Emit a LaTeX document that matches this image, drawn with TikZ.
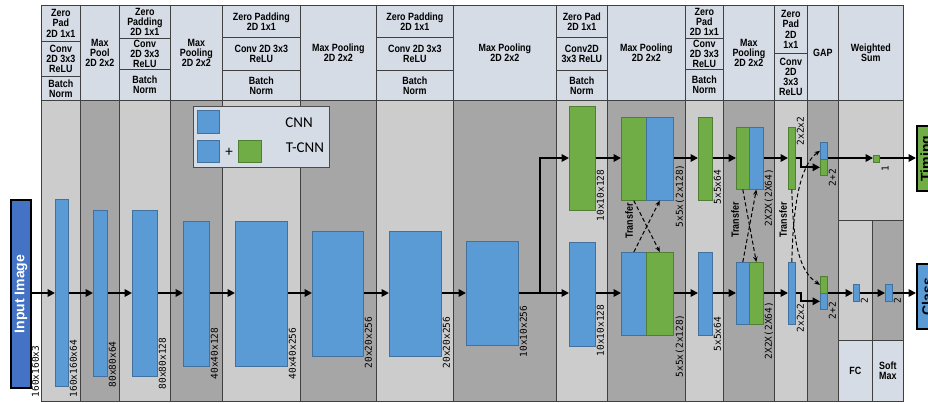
\documentclass[tikz,border=0pt]{standalone}
\usepackage{fontspec}
\usepackage{graphicx}
\usetikzlibrary{arrows.meta}
\newfontfamily\hdrfont[FakeStretch=0.85]{Liberation Sans}
\newfontfamily\boxfont{Liberation Sans}
\newfontfamily\dimfont{DejaVu Sans Mono}
\newfontfamily\legfont{Carlito}
\definecolor{hdr}{HTML}{D6DCE5}
\definecolor{bodyL}{HTML}{CCCCCC}
\definecolor{bodyD}{HTML}{A6A6A6}
\definecolor{cnnblue}{HTML}{5B9BD5}
\definecolor{cnnblueB}{HTML}{41719C}
\definecolor{tgreen}{HTML}{70AD47}
\definecolor{tgreenB}{HTML}{507E32}
\definecolor{inblue}{HTML}{4472C4}
% style, name, x1, y1, x2, y2, text
\newcommand\rectnode[7]{\node[#1, anchor=north west, minimum width={#5pt-#3pt}, minimum height={#6pt-#4pt}] (#2) at (#3,#4) {#7};}
\newcommand\dimlab[4]{\node[dimlabel] (#1) at (#2,#3) {#4};}
\tikzset{
  hc/.style={draw=black!75, line width=0.7pt, fill=hdr, inner sep=0pt, align=center,
    font=\hdrfont\bfseries\fontsize{10.5}{10.2}\selectfont},
  bc/.style={draw=black!75, line width=0.7pt, inner sep=0pt},
  bl/.style={draw=cnnblueB, fill=cnnblue, line width=0.6pt, inner sep=0pt},
  gr/.style={draw=tgreenB, fill=tgreen, line width=0.6pt, inner sep=0pt},
  dimlabel/.style={font=\dimfont\fontsize{9.5}{10}\selectfont, rotate=90, anchor=north west, inner sep=0.5pt},
  trlabel/.style={font=\hdrfont\bfseries\fontsize{10.5}{10}\selectfont, rotate=90, inner sep=0pt},
  arr/.style={line width=1.8pt, line join=miter, -{Triangle[length=7.5pt,width=7.5pt]}},
  dsh/.style={line width=1pt, dash pattern=on 4pt off 2.5pt, -{Stealth[length=5.5pt,width=4.5pt]}},
  endbox/.style={draw=black, line width=2.2pt, inner sep=0pt, font=\boxfont\bfseries\fontsize{14}{14}\selectfont},
}
\begin{document}
\begin{tikzpicture}[x=1pt,y=-1pt]
\useasboundingbox (0,0) rectangle (928,403);
\clip (0,0) rectangle (928,403);
\fill[white] (0,0) rectangle (928,403);
% body columns
\rectnode{bc,fill=bodyL}{c1}{41}{100}{80}{401}{}
\rectnode{bc,fill=bodyD}{c2}{80}{100}{119}{401}{}
\rectnode{bc,fill=bodyL}{c3}{119}{100}{170}{401}{}
\rectnode{bc,fill=bodyD}{c4}{170}{100}{222}{401}{}
\rectnode{bc,fill=bodyL}{c5}{222}{100}{300}{401}{}
\rectnode{bc,fill=bodyD}{c6}{300}{100}{376}{401}{}
\rectnode{bc,fill=bodyL}{c7}{376}{100}{453}{401}{}
\rectnode{bc,fill=bodyD}{c8}{453}{100}{556}{401}{}
\rectnode{bc,fill=bodyL}{c9}{556}{100}{607}{401}{}
\rectnode{bc,fill=bodyD}{c10}{607}{100}{685}{401}{}
\rectnode{bc,fill=bodyL}{c11}{685}{100}{723}{401}{}
\rectnode{bc,fill=bodyD}{c12}{723}{100}{774}{401}{}
\rectnode{bc,fill=bodyL}{c13}{774}{100}{807}{401}{}
\rectnode{bc,fill=bodyD}{c14}{807}{100}{838}{401}{}
\rectnode{bc,fill=bodyL}{c15}{838}{100}{903}{220}{}
\rectnode{bc,fill=bodyL}{c15f}{838}{220}{872}{340}{}
\rectnode{bc,fill=bodyD}{c15s}{872}{220}{903}{340}{}
% header
\rectnode{hc}{h1a}{41}{5}{80}{41}{Zero\\Pad\\2D 1x1}
\rectnode{hc}{h1b}{41}{41}{80}{76}{Conv\\2D 3x3\\ReLU}
\rectnode{hc}{h1c}{41}{76}{80}{100}{Batch\\Norm}
\rectnode{hc}{h2}{80}{5}{119}{100}{Max\\Pool\\2D 2x2}
\rectnode{hc}{h3a}{119}{5}{170}{38}{Zero\\Padding\\2D 1x1}
\rectnode{hc}{h3b}{119}{38}{170}{69}{Conv\\2D 3x3\\ReLU}
\rectnode{hc}{h3c}{119}{69}{170}{100}{Batch\\Norm}
\rectnode{hc}{h4}{170}{5}{222}{100}{Max\\Pooling\\2D 2x2}
\rectnode{hc}{h5a}{222}{5}{300}{37}{Zero Padding\\2D 1x1}
\rectnode{hc}{h5b}{222}{37}{300}{70}{Conv 2D 3x3\\ReLU}
\rectnode{hc}{h5c}{222}{70}{300}{100}{Batch\\Norm}
\rectnode{hc}{h6}{300}{5}{376}{100}{Max Pooling\\2D 2x2}
\rectnode{hc}{h7a}{376}{5}{453}{37}{Zero Padding\\2D 1x1}
\rectnode{hc}{h7b}{376}{37}{453}{70}{Conv 2D 3x3\\ReLU}
\rectnode{hc}{h7c}{376}{70}{453}{100}{Batch\\Norm}
\rectnode{hc}{h8}{453}{5}{556}{100}{Max Pooling\\2D 2x2}
\rectnode{hc}{h9a}{556}{5}{607}{37}{Zero Pad\\2D 1x1}
\rectnode{hc}{h9b}{556}{37}{607}{70}{Conv2D\\3x3 ReLU}
\rectnode{hc}{h9c}{556}{70}{607}{100}{Batch\\Norm}
\rectnode{hc}{h10}{607}{5}{685}{100}{Max Pooling\\2D 2x2}
\rectnode{hc}{h11a}{685}{5}{723}{38}{Zero\\Pad\\2D 1x1}
\rectnode{hc}{h11b}{685}{38}{723}{69}{Conv\\2D 3x3\\ReLU}
\rectnode{hc}{h11c}{685}{69}{723}{100}{Batch\\Norm}
\rectnode{hc}{h12}{723}{5}{774}{100}{Max\\Pooling\\2D 2x2}
\rectnode{hc}{h13a}{774}{5}{807}{53}{Zero\\Pad\\2D\\1x1}
\rectnode{hc}{h13b}{774}{53}{807}{100}{Conv\\2D\\3x3\\ReLU}
\rectnode{hc}{h14}{807}{5}{838}{100}{GAP}
\rectnode{hc}{h15}{838}{5}{903}{100}{Weighted\\Sum}
\rectnode{hc}{h15f}{838}{340}{872}{401}{FC}
\rectnode{hc}{h15s}{872}{340}{903}{401}{Soft\\Max}
% legend
\rectnode{draw=black!70,line width=0.8pt,fill=hdr,inner sep=0pt}{leg}{193}{106}{329}{167}{}
\rectnode{bl}{lg1}{197}{110}{219}{133}{}
\rectnode{bl}{lg2}{197}{140}{219}{162}{}
\rectnode{gr}{lg3}{238}{140}{261}{162}{}
\node[font=\legfont\fontsize{15}{15}\selectfont, inner sep=0pt] (lplus) at (229,152) {+};
\node[font=\legfont\fontsize{15}{15}\selectfont, inner sep=0pt] (lcnn) at (299,123) {CNN};
\node[font=\legfont\fontsize{15}{15}\selectfont, inner sep=0pt] (ltcnn) at (305,148) {T-CNN};
% input and outputs
\rectnode{endbox,fill=inblue,text=white}{inp}{10}{199}{30}{387}{\rotatebox{90}{Input Image}}
\rectnode{endbox,fill=tgreen}{timing}{916}{125}{936}{190}{\rotatebox{90}{Timing}}
\rectnode{endbox,fill=cnnblue}{cls}{916}{263}{936}{328}{\rotatebox{90}{Class}}
% blocks
\rectnode{bl}{b1}{55}{199}{68}{386}{}
\rectnode{bl}{b2}{93}{210}{107}{376}{}
\rectnode{bl}{b3}{132}{210}{157}{376}{}
\rectnode{bl}{b4}{183}{221}{209}{366}{}
\rectnode{bl}{b5}{235}{221}{287}{366}{}
\rectnode{bl}{b6}{312}{231}{363}{356}{}
\rectnode{bl}{b7}{389}{231}{441}{356}{}
\rectnode{bl}{b8}{466}{241}{518}{345}{}
\rectnode{gr}{t9}{569}{106}{595}{210}{}
\rectnode{bl}{u9}{569}{242}{595}{346}{}
\rectnode{gr}{t10g}{621}{117}{646}{200}{}
\rectnode{bl}{t10b}{646}{117}{673}{200}{}
\rectnode{bl}{u10b}{621}{252}{646}{335}{}
\rectnode{gr}{u10g}{646}{252}{673}{335}{}
\rectnode{gr}{t11}{698}{117}{712}{200}{}
\rectnode{bl}{u11}{698}{252}{712}{335}{}
\rectnode{gr}{t12g}{736}{127}{749}{189}{}
\rectnode{bl}{t12b}{749}{127}{763}{189}{}
\rectnode{bl}{u12b}{736}{262}{749}{324}{}
\rectnode{gr}{u12g}{749}{262}{763}{324}{}
\rectnode{gr}{t13}{788}{127}{795}{189}{}
\rectnode{bl}{u13}{788}{262}{795}{324}{}
\rectnode{bl}{t14b}{820}{142}{827}{159}{}
\rectnode{gr}{t14g}{820}{159}{827}{175}{}
\rectnode{gr}{u14g}{820}{276}{827}{293}{}
\rectnode{bl}{u14b}{820}{293}{827}{309}{}
\rectnode{gr}{fct}{873}{155}{879}{162}{}
\rectnode{bl}{fcu}{853}{284}{859}{301}{}
\rectnode{bl}{smu}{885}{284}{892}{301}{}
% coordinates
\coordinate (m) at (0,293);
\coordinate (tl) at (0,158);
\coordinate (j) at (540,293);
\coordinate (jt) at (540,158);
\coordinate (s1) at (801,158);
\coordinate (s2) at (801,293);
% arrows bottom path
\draw[arr] (inp.east |- m) -- (b1.west |- m);
\draw[arr] (b1.east |- m) -- (b2.west |- m);
\draw[arr] (b2.east |- m) -- (b3.west |- m);
\draw[arr] (b3.east |- m) -- (b4.west |- m);
\draw[arr] (b4.east |- m) -- (b5.west |- m);
\draw[arr] (b5.east |- m) -- (b6.west |- m);
\draw[arr] (b6.east |- m) -- (b7.west |- m);
\draw[arr] (b7.east |- m) -- (b8.west |- m);
\draw[arr] (b8.east |- m) -- (u9.west |- m);
\draw[arr] (j) -- (jt) -- (t9.west |- tl);
\draw[arr] (u9.east |- m) -- (u10b.west |- m);
\draw[arr] (u10g.east |- m) -- (u11.west |- m);
\draw[arr] (u11.east |- m) -- (u12b.west |- m);
\draw[arr] (u12g.east |- m) -- (u13.west |- m);
\draw[arr] (u13.east |- m) -- (s2) -- (s2 |- u14b) -- (u14b.west);
\draw[arr] (u14b.east |- m) -- (fcu.west |- m);
\draw[arr] (fcu.east |- m) -- (smu.west |- m);
\draw[arr] (smu.east |- m) -- (cls.west |- m);
% top path
\draw[arr] (t9.east |- tl) -- (t10g.west |- tl);
\draw[arr] (t10b.east |- tl) -- (t11.west |- tl);
\draw[arr] (t11.east |- tl) -- (t12g.west |- tl);
\draw[arr] (t12b.east |- tl) -- (t13.west |- tl);
\draw[arr] (t13.east |- tl) -- (s1) -- (s1 |- t14g) -- (t14g.west);
\draw[arr] (t14b.east |- tl) -- (fct.west |- tl);
\draw[arr] (fct.east |- tl) -- (timing.west |- tl);
% transfer
\draw[dsh] (t10g.south) -- (u10g.north);
\draw[dsh] (u10b.north) -- (t10b.south);
\draw[dsh] (t12g.south) -- (u12g.north);
\draw[dsh] (u12b.north) -- (t12b.south);
\draw[dsh] (t13.south) .. controls (793,245) and (800,272) .. (u14g.west);
\draw[dsh] (u13.north) .. controls (793,205) and (800,165) .. (t14b.west);
\node[trlabel] (tr1) at (629,221) {Transfer};
\node[trlabel] (tr2) at (735,220) {Transfer};
\node[trlabel] (tr3) at (783,220) {Transfer};
% dimension labels
\dimlab{d0}{31}{398}{160x160x3}
\dimlab{d1}{69}{398}{160x160x64}
\dimlab{d2}{108}{388}{80x80x64}
\dimlab{d3}{158}{390}{80x80x128}
\dimlab{d4}{210}{380}{40x40x128}
\dimlab{d5}{288}{380}{40x40x256}
\dimlab{d6}{364}{369}{20x20x256}
\dimlab{d7}{442}{369}{20x20x256}
\dimlab{d8}{519}{358}{10x10x256}
\dimlab{d9t}{596}{222}{10x10x128}
\dimlab{d9u}{596}{357}{10x10x128}
\dimlab{d10t}{675}{228}{5x5x(2x128)}
\dimlab{d10u}{675}{378}{5x5x(2x128)}
\dimlab{d11t}{713}{205}{5x5x64}
\dimlab{d11u}{713}{352}{5x5x64}
\dimlab{d12t}{764}{227}{2X2X(2X64)}
\dimlab{d12u}{764}{360}{2X2X(2X64)}
\dimlab{d13t}{796}{146}{2x2x2}
\dimlab{d13u}{796}{333}{2x2x2}
\dimlab{d14t}{828}{187}{2+2}
\dimlab{d14u}{828}{320}{2+2}
\dimlab{d15}{881}{172}{1}
\dimlab{d16}{860}{304}{2}
\dimlab{d17}{893}{304}{2}
\end{tikzpicture}
\end{document}
